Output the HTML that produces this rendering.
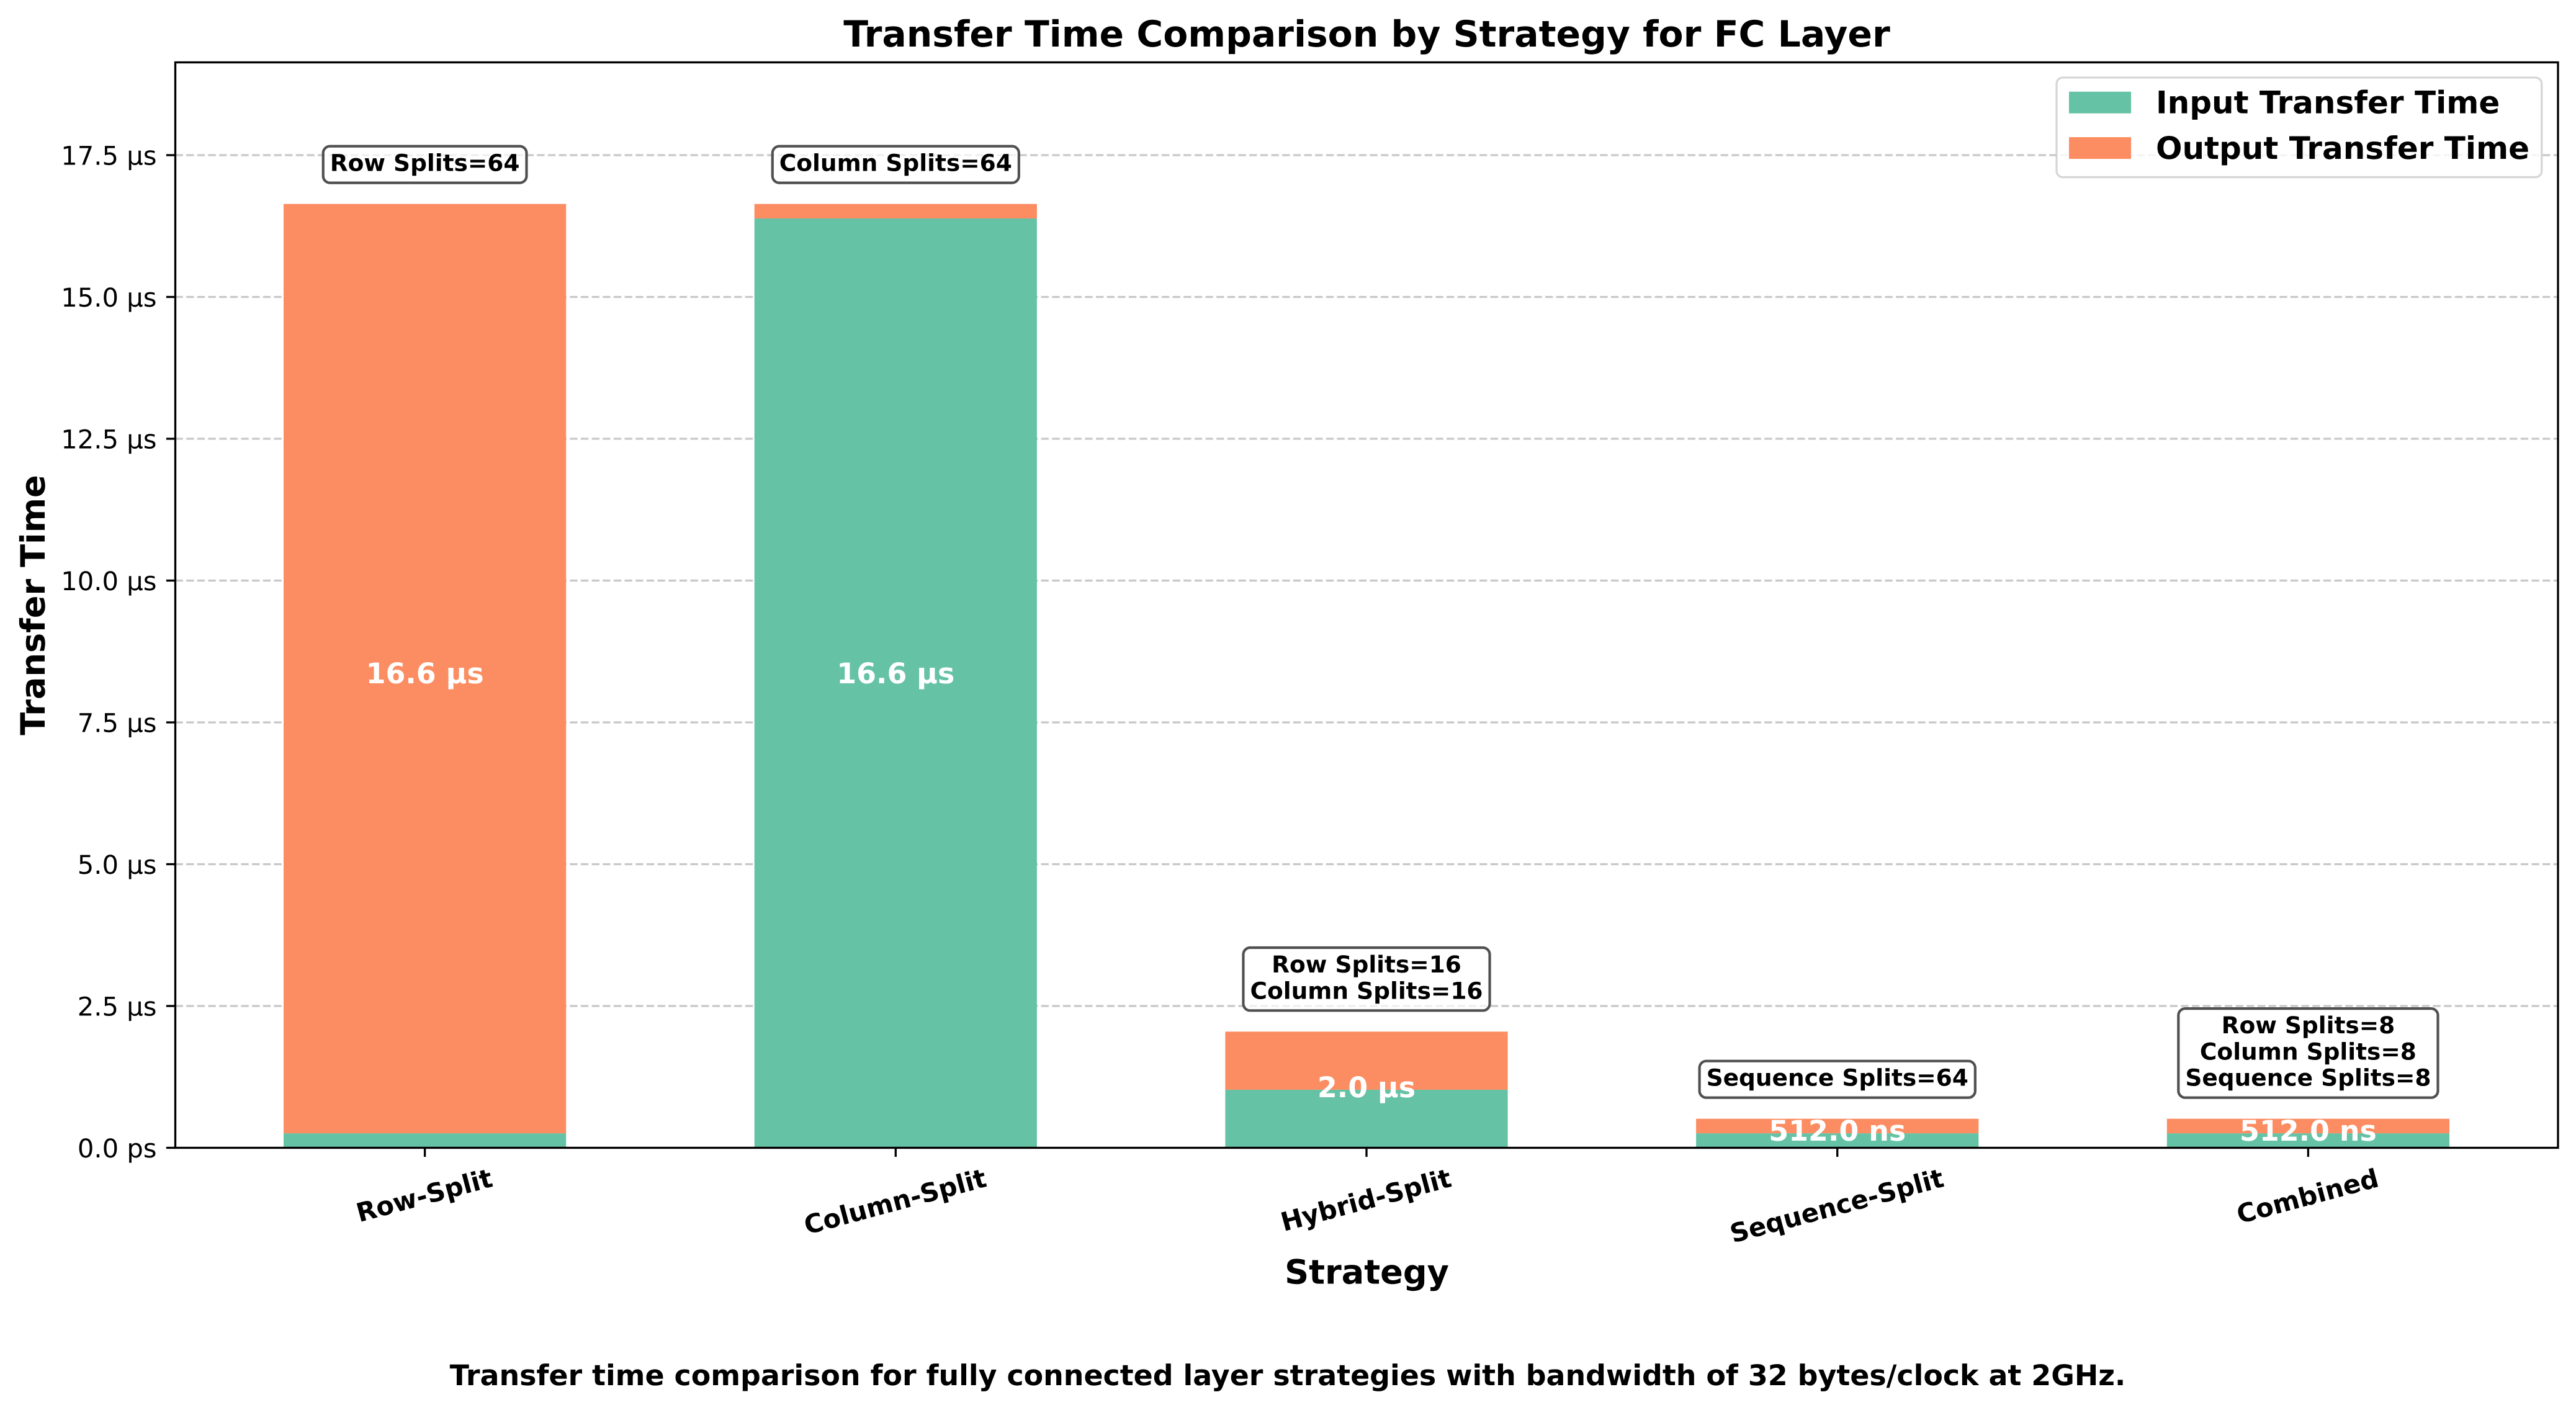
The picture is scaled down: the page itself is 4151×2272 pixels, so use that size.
<!DOCTYPE html>
<html lang="en">
<head>
<meta charset="utf-8">
<title>Transfer Time Comparison by Strategy for FC Layer</title>
<style>
html,body{margin:0;padding:0;background:#fff;}
svg{display:block;}
text{font-family:"DejaVu Sans","Liberation Sans",sans-serif;fill:#000;text-rendering:geometricPrecision;}
.b{font-weight:700;}
</style>
</head>
<body>
<svg id="chart" xmlns="http://www.w3.org/2000/svg" width="4151" height="2272" viewBox="0 0 4151 2272">
  <rect x="0" y="0" width="4151" height="2272" fill="#fff"/>
  <g id="grid"></g>
  <g id="bars"></g>
  <g id="notes"></g>
  <g id="values"></g>
  <g id="axis"></g>
  <rect x="282.5" y="100.5" width="3839.5" height="1749" fill="none" stroke="#000" stroke-width="3.33"/>
  <text class="b" x="2202.5" y="75" font-size="58.33" text-anchor="middle">Transfer Time Comparison by Strategy for FC Layer</text>
  <text class="b" x="2202.5" y="2068.5" font-size="54.17" text-anchor="middle">Strategy</text>
  <text class="b" transform="translate(72 975) rotate(-90)" font-size="54.17" text-anchor="middle">Transfer Time</text>
  <text class="b" x="2075" y="2232" font-size="45.87" text-anchor="middle">Transfer time comparison for fully connected layer strategies with bandwidth of 32 bytes/clock at 2GHz.</text>
  <g>
    <rect x="3314" y="125" width="1" height="160.5" id="legendFrame" rx="10" ry="10" fill="rgba(255,255,255,0.8)" stroke="rgba(204,204,204,0.8)" stroke-width="3.33"/>
    <rect x="3334" y="147.7" width="100" height="35" fill="#66c2a5"/>
    <text class="b" x="3474" y="182.7" font-size="50">Input Transfer Time</text>
    <rect x="3334" y="221" width="100" height="35" fill="#fc8d62"/>
    <text class="b" x="3474" y="256" font-size="50">Output Transfer Time</text>
  </g>
</svg>
<script>
const categories = ['Row-Split', 'Column-Split', 'Hybrid-Split', 'Sequence-Split', 'Combined'];
const inputTimes = [0.256, 16.384, 1.024, 0.256, 0.256];
const outputTimes = [16.384, 0.256, 1.024, 0.256, 0.256];
const totalLabels = ['16.6 µs', '16.6 µs', '2.0 µs', '512.0 ns', '512.0 ns'];
const splitNotes = [
  ['Row Splits=64'],
  ['Column Splits=64'],
  ['Row Splits=16', 'Column Splits=16'],
  ['Sequence Splits=64'],
  ['Row Splits=8', 'Column Splits=8', 'Sequence Splits=8']
];
const yTicks = [0, 2.5, 5, 7.5, 10, 12.5, 15, 17.5];
const yTickLabels = ['0.0 ps', '2.5 µs', '5.0 µs', '7.5 µs', '10.0 µs', '12.5 µs', '15.0 µs', '17.5 µs'];

const NS = 'http://www.w3.org/2000/svg';
const PLOT = {left: 282.5, right: 4122, top: 100.5, bottom: 1849.5};
const X0 = 684.6, XSTEP = 758.7, BAR_W = 0.6;
const Y_PER_UNIT = 91.4;

function xScale(i) { return X0 + i * XSTEP; }
function yScale(v) { return PLOT.bottom - v * Y_PER_UNIT; }
function mk(tag, props, parent) {
  const el = document.createElementNS(NS, tag);
  for (const k in props) el.setAttribute(k, props[k]);
  parent.appendChild(el);
  return el;
}

const gridG = document.getElementById('grid');
const barsG = document.getElementById('bars');
const notesG = document.getElementById('notes');
const valuesG = document.getElementById('values');
const axisG = document.getElementById('axis');

yTicks.forEach(function (v, i) {
  const y = yScale(v);
  if (v > 0) {
    const g = mk('line', {x1: PLOT.left, x2: PLOT.right, y1: y, y2: y, stroke: '#b0b0b0', 'stroke-opacity': 0.7, 'stroke-width': 3.33, 'stroke-dasharray': '12.33 5.33'}, gridG);
    
    
  }
  const tick = mk('line', {x1: PLOT.left - 14.6, x2: PLOT.left, y1: y, y2: y, stroke: '#000', 'stroke-width': 3.33}, axisG);
  
  
  const lab = mk('text', {x: 252.5, y: y + 15.5, 'font-size': 41.67, 'text-anchor': 'end'}, axisG);
  lab.textContent = yTickLabels[i];
  
  
});

categories.forEach(function (name, i) {
  const cx = xScale(i);
  const w = BAR_W * XSTEP;
  const inV = inputTimes[i];
  const outV = outputTimes[i];
  const total = inV + outV;

  const r1 = mk('rect', {x: cx - w / 2, width: w, y: yScale(inV), height: yScale(0) - yScale(inV), fill: '#66c2a5'}, barsG);
  
  
  const r2 = mk('rect', {x: cx - w / 2, width: w, y: yScale(total), height: yScale(inV) - yScale(total), fill: '#fc8d62'}, barsG);
  
  

  const val = mk('text', {x: cx, y: yScale(total / 2) + 12, 'font-size': 45.83, 'font-weight': 700, 'text-anchor': 'middle', style: 'fill:#fff'}, valuesG);
  val.textContent = totalLabels[i];
  
  

  const lines = splitNotes[i];
  const boxBottom = yScale(total) - 34;
  const box = mk('rect', {fill: 'rgba(255,255,255,0.7)', stroke: '#505050', 'stroke-width': 4.17, rx: 11, ry: 11}, notesG);
  
  
  let maxW = 0;
  lines.forEach(function (line, k) {
    const base = boxBottom - 19 - (lines.length - 1 - k) * 42.3;
    const t = mk('text', {x: cx, y: base, 'font-size': 37.5, 'font-weight': 700, 'text-anchor': 'middle'}, notesG);
    t.textContent = line;
    
    
    maxW = Math.max(maxW, t.getComputedTextLength());
  });
  const boxW = maxW + 22;
  const boxH = 59 + (lines.length - 1) * 42.3;
  box.setAttribute('x', cx - boxW / 2);
  box.setAttribute('width', boxW);
  box.setAttribute('y', boxBottom - boxH);
  box.setAttribute('height', boxH);

  const tick = mk('line', {x1: cx, x2: cx, y1: PLOT.bottom, y2: PLOT.bottom + 14.6, stroke: '#000', 'stroke-width': 3.33}, axisG);
  
  

  const lab = mk('text', {x: 0, y: 0, 'font-size': 41.67, 'font-weight': 700, 'text-anchor': 'middle'}, axisG);
  lab.textContent = name;
  
  
  const tw = lab.getComputedTextLength();
  const a = 15 * Math.PI / 180;
  const cy = PLOT.bottom + 31 + (tw * Math.sin(a) + 41.67 * Math.cos(a)) / 2;
  lab.setAttribute('transform', 'translate(' + cx + ' ' + cy + ') rotate(-15) translate(0 11)');
});

const frame = document.getElementById('legendFrame');
frame.setAttribute('width', 4095.7 - 3314);
</script>
</body>
</html>
